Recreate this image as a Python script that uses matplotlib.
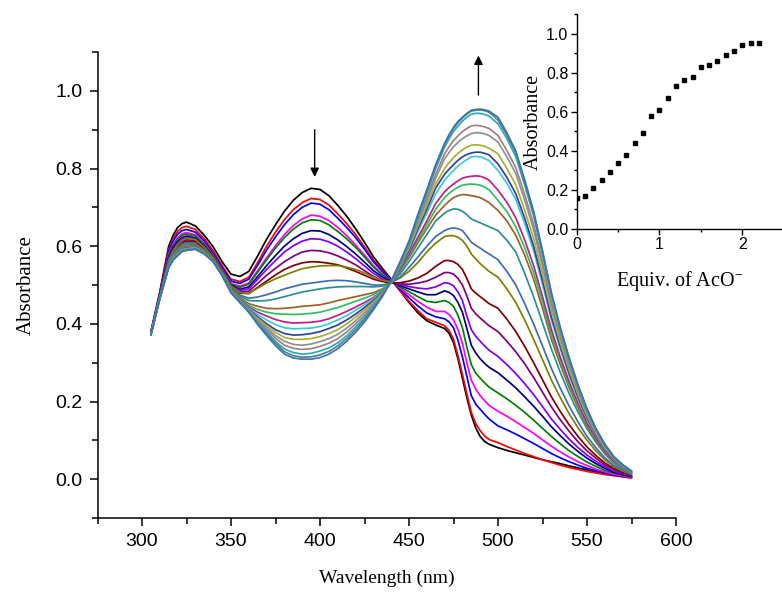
import matplotlib
matplotlib.use("Agg")
import matplotlib.pyplot as plt
from matplotlib.ticker import MultipleLocator

# ---------------- data ----------------
wavelength = [305, 310, 315, 317.5, 320, 322.5, 325, 330, 335, 340, 345, 350, 355, 360,
              365, 370, 375, 380, 385, 390, 395, 400,
              405, 410, 415, 420, 425, 430, 435, 440, 445, 450,
              455, 460, 465, 470, 472.5, 475, 477.5, 480, 482.5, 485, 487.5, 490, 492.5, 495, 500,
              505, 510, 515, 520, 525, 530, 535, 540, 545, 550,
              555, 560, 565, 570, 575]

abs_eq00 = [.380, .482, .600, .628, .648, .658, .662, .652, .628, .598, .560, .528, .522, .535,
            .575, .618, .655, .690, .718, .738, .749, .746,
            .730, .705, .677, .645, .610, .573, .543, .515, .485, .455,
            .428, .408, .397, .388, .376, .352, .310, .260, .210, .165, .132, .110, .097, .090, .081,
            .074, .068, .062, .056, .050, .045, .040, .034, .029, .024,
            .019, .014, .010, .007, .004]
abs_eq01 = [.378, .479, .592, .619, .638, .648, .651, .643, .619, .588, .550, .515, .509, .520,
            .558, .600, .636, .668, .694, .712, .723, .720,
            .706, .683, .658, .630, .598, .565, .538, .513, .485, .458,
            .434, .413, .404, .395, .383, .360, .318, .270, .220, .172, .143, .125, .111, .102, .094,
            .084, .075, .066, .058, .050, .043, .036, .030, .025, .020,
            .016, .012, .009, .006, .003]
abs_eq02 = [.377, .477, .587, .613, .631, .640, .643, .636, .613, .582, .545, .510, .504, .515,
            .551, .590, .624, .655, .681, .700, .711, .708,
            .694, .672, .648, .622, .592, .560, .535, .512, .489, .467,
            .446, .428, .418, .413, .405, .390, .358, .315, .265, .215, .193, .180, .167, .155, .137,
            .127, .116, .104, .092, .079, .066, .055, .045, .036, .028,
            .022, .016, .011, .008, .005]
abs_eq03 = [.377, .475, .580, .605, .622, .632, .635, .629, .607, .577, .540, .504, .497, .505,
            .537, .570, .601, .630, .653, .670, .680, .677,
            .666, .648, .627, .603, .577, .550, .528, .510, .492, .475,
            .458, .443, .432, .432, .424, .410, .385, .350, .300, .255, .232, .215, .202, .190, .175,
            .162, .148, .133, .118, .101, .085, .070, .057, .045, .035,
            .026, .019, .013, .009, .005]
abs_eq04 = [.376, .474, .577, .601, .618, .628, .631, .626, .604, .575, .538, .502, .494, .502,
            .533, .565, .595, .622, .644, .660, .668, .666,
            .655, .638, .619, .597, .572, .546, .526, .509, .495, .483,
            .470, .458, .455, .460, .455, .445, .422, .390, .340, .295, .273, .260, .248, .237, .222,
            .207, .190, .172, .152, .131, .110, .091, .073, .058, .044,
            .033, .023, .016, .011, .006]
abs_eq05 = [.376, .473, .572, .596, .612, .622, .626, .621, .600, .572, .536, .499, .489, .495,
            .522, .550, .576, .600, .619, .633, .640, .639,
            .630, .616, .599, .580, .559, .537, .521, .508, .498, .490,
            .482, .475, .475, .485, .481, .473, .455, .430, .388, .345, .325, .310, .298, .288, .274,
            .255, .235, .212, .188, .162, .135, .112, .090, .071, .054,
            .040, .028, .018, .012, .007]
abs_eq06 = [.375, .472, .568, .591, .607, .618, .622, .618, .597, .570, .534, .497, .486, .490,
            .515, .540, .563, .585, .601, .613, .619, .618,
            .611, .600, .585, .568, .549, .530, .516, .507, .501, .496,
            .492, .490, .495, .506, .504, .498, .482, .460, .420, .385, .368, .355, .343, .332, .316,
            .295, .272, .246, .218, .187, .155, .128, .103, .081, .062,
            .046, .032, .021, .014, .008]
abs_eq07 = [.375, .471, .564, .587, .602, .613, .617, .614, .594, .568, .532, .495, .482, .484,
            .504, .525, .543, .560, .574, .585, .589, .588,
            .583, .575, .564, .552, .537, .522, .512, .506, .503, .502,
            .505, .510, .520, .532, .532, .528, .517, .500, .472, .440, .426, .415, .405, .395, .380,
            .355, .328, .297, .262, .224, .186, .153, .123, .096, .073,
            .054, .037, .025, .016, .009]
abs_eq08 = [.375, .470, .561, .583, .598, .609, .613, .611, .592, .566, .531, .494, .479, .478,
            .494, .510, .526, .540, .550, .557, .560, .559,
            .556, .552, .544, .535, .525, .515, .509, .505, .506, .510,
            .518, .530, .548, .563, .563, .560, .553, .540, .517, .490, .479, .470, .461, .452, .440,
            .412, .380, .342, .300, .256, .212, .174, .140, .110, .083,
            .061, .042, .028, .018, .010]
abs_eq09 = [.375, .470, .563, .587, .603, .615, .620, .617, .597, .570, .535, .497, .481, .478,
            .492, .505, .516, .525, .534, .542, .546, .549,
            .550, .550, .546, .540, .531, .520, .512, .508, .518, .535,
            .558, .585, .608, .625, .627, .627, .623, .615, .600, .580, .567, .555, .545, .535, .520,
            .490, .455, .410, .360, .308, .255, .210, .168, .132, .100,
            .073, .050, .033, .021, .012]
abs_eq10 = [.374, .469, .557, .579, .594, .605, .609, .607, .589, .565, .530, .492, .474, .466,
            .469, .475, .482, .490, .496, .502, .505, .508,
            .511, .512, .511, .508, .504, .500, .500, .505, .520, .545,
            .572, .600, .625, .640, .645, .647, .645, .640, .626, .610, .602, .595, .587, .580, .565,
            .535, .500, .452, .400, .343, .285, .234, .188, .147, .110,
            .081, .055, .036, .023, .013]
abs_eq11 = [.374, .469, .555, .577, .591, .602, .606, .605, .588, .564, .529, .490, .471, .460,
            .459, .460, .464, .470, .476, .482, .486, .490,
            .493, .495, .496, .496, .496, .495, .497, .506, .528, .560,
            .595, .630, .665, .685, .692, .696, .695, .690, .681, .670, .665, .660, .655, .650, .640,
            .615, .585, .530, .470, .403, .335, .275, .220, .172, .130,
            .095, .065, .042, .027, .016]
abs_eq12 = [.374, .468, .553, .574, .588, .599, .603, .603, .587, .564, .528, .489, .467, .452,
            .445, .440, .439, .440, .442, .445, .447, .449,
            .454, .460, .465, .470, .475, .480, .490, .505, .535, .570,
            .608, .645, .680, .705, .716, .725, .730, .733, .732, .730, .728, .725, .719, .712, .692,
            .665, .628, .577, .515, .440, .360, .295, .235, .183, .137,
            .100, .068, .044, .028, .016]
abs_eq13 = [.373, .468, .552, .573, .586, .597, .601, .601, .586, .563, .528, .488, .465, .447,
            .437, .430, .426, .425, .424, .425, .427, .430,
            .436, .442, .450, .458, .466, .475, .488, .505, .537, .575,
            .615, .655, .695, .725, .736, .745, .752, .757, .759, .760, .759, .757, .752, .745, .718,
            .689, .650, .596, .532, .455, .372, .304, .242, .189, .141,
            .103, .070, .045, .029, .016]
abs_eq14 = [.373, .467, .551, .571, .584, .595, .599, .600, .585, .563, .527, .487, .463, .443,
            .430, .420, .411, .405, .402, .403, .404, .407,
            .413, .422, .432, .443, .455, .468, .484, .505, .540, .580,
            .623, .665, .710, .740, .751, .760, .768, .775, .778, .780, .781, .780, .776, .770, .744,
            .713, .673, .616, .550, .470, .385, .314, .250, .195, .145,
            .106, .072, .047, .030, .017]
abs_eq15 = [.373, .467, .550, .570, .582, .593, .597, .598, .584, .562, .527, .486, .461, .440,
            .424, .410, .398, .390, .387, .388, .389, .393,
            .400, .410, .421, .435, .449, .465, .483, .506, .544, .587,
            .638, .685, .735, .770, .783, .795, .806, .815, .823, .830, .831, .830, .826, .820, .795,
            .762, .720, .658, .588, .502, .410, .335, .266, .207, .155,
            .113, .077, .050, .032, .018]
abs_eq16 = [.372, .466, .549, .569, .581, .592, .596, .597, .583, .562, .526, .485, .460, .437,
            .418, .400, .385, .375, .371, .372, .375, .380,
            .388, .397, .410, .425, .442, .460, .481, .507, .546, .590,
            .645, .695, .750, .785, .798, .810, .821, .830, .836, .840, .842, .842, .839, .835, .812,
            .777, .735, .672, .600, .512, .418, .342, .272, .211, .158,
            .115, .079, .051, .033, .018]
abs_eq17 = [.372, .466, .548, .568, .580, .591, .594, .596, .583, .561, .526, .484, .459, .435,
            .414, .395, .378, .365, .360, .360, .362, .367,
            .375, .385, .400, .417, .436, .456, .479, .507, .549, .595,
            .652, .705, .760, .800, .815, .828, .839, .848, .855, .860, .861, .860, .857, .852, .838,
            .800, .758, .692, .620, .528, .432, .352, .281, .218, .163,
            .118, .081, .053, .034, .019]
abs_eq18 = [.372, .466, .547, .567, .579, .590, .593, .595, .582, .561, .526, .483, .458, .433,
            .410, .390, .370, .355, .347, .345, .348, .354,
            .362, .373, .389, .408, .429, .452, .477, .508, .552, .600,
            .660, .715, .775, .825, .841, .856, .867, .877, .884, .890, .892, .892, .889, .885, .868,
            .830, .787, .718, .643, .548, .447, .364, .291, .226, .169,
            .122, .084, .055, .035, .019]
abs_eq19 = [.372, .465, .547, .566, .578, .589, .592, .594, .581, .561, .525, .482, .457, .432,
            .407, .385, .363, .345, .337, .334, .336, .342,
            .350, .362, .379, .400, .422, .448, .476, .508, .554, .603,
            .666, .725, .785, .838, .856, .872, .884, .895, .903, .910, .911, .910, .907, .903, .885,
            .846, .802, .733, .656, .559, .456, .371, .297, .231, .172,
            .124, .086, .056, .036, .020]
abs_eq20 = [.371, .465, .546, .565, .577, .588, .591, .593, .581, .560, .525, .481, .456, .431,
            .404, .380, .355, .335, .326, .322, .324, .330,
            .338, .351, .369, .392, .416, .444, .474, .509, .556, .607,
            .673, .735, .800, .855, .876, .895, .909, .922, .932, .940, .942, .942, .939, .935, .915,
            .877, .830, .757, .678, .578, .472, .384, .307, .238, .178,
            .129, .089, .058, .037, .020]
abs_eq21 = [.371, .465, .546, .565, .576, .587, .590, .592, .580, .560, .525, .480, .455, .430,
            .401, .375, .350, .328, .318, .314, .315, .320,
            .329, .343, .362, .385, .411, .440, .472, .509, .558, .610,
            .678, .742, .807, .862, .884, .903, .918, .930, .940, .948, .950, .951, .949, .945, .925,
            .886, .840, .766, .686, .585, .478, .389, .311, .241, .180,
            .130, .090, .058, .037, .021]
abs_eq22 = [.371, .465, .545, .564, .575, .586, .589, .592, .580, .560, .525, .480, .455, .430,
            .398, .370, .344, .322, .312, .309, .309, .313,
            .322, .336, .355, .378, .405, .436, .470, .510, .560, .613,
            .682, .745, .810, .865, .887, .906, .921, .932, .942, .950, .952, .953, .951, .948, .932,
            .892, .845, .771, .690, .588, .480, .390, .312, .242, .181,
            .130, .090, .058, .037, .021]

curve_colors = ["#000000", "#ff0000", "#0000ff", "#ff00ff", "#008000", "#000080", "#8000ff",
                "#800080", "#800000", "#808000", "#3d6fb0", "#2a9090", "#a0602a", "#2ec060",
                "#c02080", "#40c8d8", "#3040a0", "#a8b030", "#909090", "#a08080", "#30a8b8",
                "#4f8098", "#3a78a8"]

# inset (titration profile)
equiv = [0.0, 0.1, 0.2, 0.3, 0.4, 0.5, 0.6, 0.7, 0.8, 0.9, 1.0, 1.1, 1.2, 1.3, 1.4, 1.5,
         1.6, 1.7, 1.8, 1.9, 2.0, 2.1, 2.2]
inset_abs = [0.16, 0.17, 0.21, 0.25, 0.29, 0.34, 0.38, 0.44, 0.49, 0.58, 0.61, 0.67, 0.73,
             0.76, 0.78, 0.83, 0.84, 0.86, 0.89, 0.91, 0.94, 0.95, 0.95]

x_ticks = [300, 350, 400, 450, 500, 550, 600]
y_ticks = [0.0, 0.2, 0.4, 0.6, 0.8, 1.0]

curves = [abs_eq00, abs_eq01, abs_eq02, abs_eq03, abs_eq04, abs_eq05, abs_eq06, abs_eq07,
          abs_eq08, abs_eq09, abs_eq10, abs_eq11, abs_eq12, abs_eq13, abs_eq14, abs_eq15,
          abs_eq16, abs_eq17, abs_eq18, abs_eq19, abs_eq20, abs_eq21, abs_eq22]

# ---------------- figure ----------------
plt.rcParams["mathtext.fontset"] = "custom"
plt.rcParams["mathtext.rm"] = "Liberation Serif"
plt.rcParams["mathtext.it"] = "Liberation Serif:italic"

SANS = "Liberation Sans"
SERIF = "Liberation Serif"

fig = plt.figure(figsize=(7.82, 5.93), dpi=100)
ax = fig.add_axes([97.5 / 782, 1 - 518 / 593, (676 - 97.5) / 782, (518 - 52) / 593])

for ys, col in zip(curves, curve_colors):
    ax.plot(wavelength, ys, color=col, lw=1.25, solid_joinstyle="round",
            solid_capstyle="round")

ax.set_xlim(275, 600)
ax.set_ylim(-0.1, 1.1)
ax.set_xticks(x_ticks)
ax.set_yticks(y_ticks)
ax.xaxis.set_minor_locator(MultipleLocator(25))
ax.yaxis.set_minor_locator(MultipleLocator(0.1))
ax.set_yticklabels([f"{v:.1f}" for v in y_ticks])
for s in ("top", "right"):
    ax.spines[s].set_visible(False)
for s in ("left", "bottom"):
    ax.spines[s].set_linewidth(1.1)
ax.tick_params(which="major", direction="out", length=6, width=1.1, labelsize=14, pad=5)
ax.tick_params(which="minor", direction="out", length=4, width=1.1)
for lab in ax.get_xticklabels() + ax.get_yticklabels():
    lab.set_fontfamily(SANS)
ax.set_xlabel("Wavelength (nm)", fontfamily=SERIF, fontsize=14, labelpad=14)
ax.set_ylabel("Absorbance", fontfamily=SERIF, fontsize=15, labelpad=14)

# arrows
ax.annotate("", xy=(397, 0.771), xytext=(397, 0.907),
            arrowprops=dict(arrowstyle="-|>", color="black", lw=1.0, mutation_scale=13))
ax.annotate("", xy=(489, 1.098), xytext=(489, 0.982),
            arrowprops=dict(arrowstyle="-|>", color="black", lw=1.0, mutation_scale=13),
            annotation_clip=False)

# inset
axi = fig.add_axes([576.7 / 782, 1 - 229 / 593, 1 - 576.7 / 782, (229 - 14) / 593])
axi.patch.set_alpha(0)
axi.plot(equiv, inset_abs, "s", color="black", ms=3.5)
axi.set_xlim(0, 2.48)
axi.set_ylim(0, 1.1)
axi.set_xticks([0, 1, 2])
axi.set_xticklabels(["0", "1", "2"])
axi.set_yticks([0.0, 0.2, 0.4, 0.6, 0.8, 1.0])
axi.set_yticklabels(["0.0", "0.2", "0.4", "0.6", "0.8", "1.0"])
axi.xaxis.set_minor_locator(MultipleLocator(0.5))
axi.yaxis.set_minor_locator(MultipleLocator(0.1))
for s in ("top", "right"):
    axi.spines[s].set_visible(False)
for s in ("left", "bottom"):
    axi.spines[s].set_linewidth(1.0)
axi.tick_params(which="major", direction="out", length=4, width=1.0, labelsize=11.5, pad=2)
axi.tick_params(which="minor", direction="out", length=2.5, width=1.0)
for lab in axi.get_xticklabels() + axi.get_yticklabels():
    lab.set_fontfamily(SANS)
axi.set_xlabel("Equiv. of AcO$^{-}$", fontfamily=SERIF, fontsize=14.5, labelpad=12)
axi.set_ylabel("Absorbance", fontfamily=SERIF, fontsize=14.5, labelpad=2)

fig.savefig("out.png", dpi=100)
